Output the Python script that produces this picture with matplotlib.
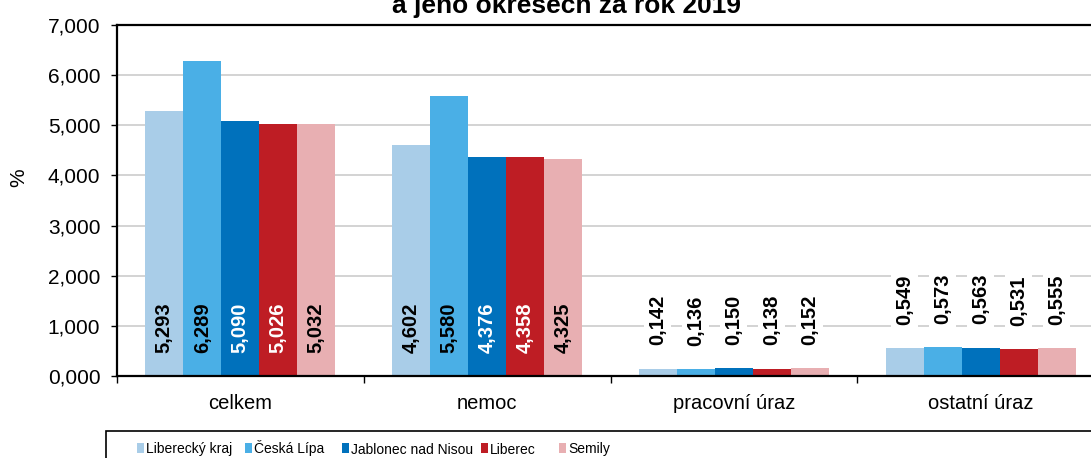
import numpy as np
import matplotlib
matplotlib.use("Agg")
import matplotlib.pyplot as plt
from matplotlib.patches import Rectangle

categories = ["celkem", "nemoc", "pracovní úraz", "ostatní úraz"]
regions = ["Liberecký kraj", "Česká Lípa", "Jablonec nad Nisou", "Liberec", "Semily"]
values = {
    "Liberecký kraj":     [5.293, 4.602, 0.142, 0.549],
    "Česká Lípa":         [6.289, 5.580, 0.136, 0.573],
    "Jablonec nad Nisou": [5.090, 4.376, 0.150, 0.563],
    "Liberec":            [5.026, 4.358, 0.138, 0.531],
    "Semily":             [5.032, 4.325, 0.152, 0.555],
}
colors = ["#A9CDE8", "#4AAFE6", "#0071BC", "#BE1D24", "#E8AFB2"]
label_colors = ["black", "black", "white", "white", "black"]
# legend entry positions (px from left) as in the original Excel legend
legend_x = [137, 245, 342, 481, 559]

def fmt(v):
    return f"{v:.3f}".replace(".", ",")

plt.rcParams["font.family"] = ["Liberation Sans", "DejaVu Sans"]

W, H = 1091, 458
fig = plt.figure(figsize=(W / 100, H / 100), dpi=100)
ax = fig.add_axes([117 / W, 1 - 376 / H, (1104 - 117) / W, (376 - 25) / H])

x = np.arange(len(categories))
bw = 0.154
for i, reg in enumerate(regions):
    xs = x + (i - 2) * bw
    ax.bar(xs, values[reg], width=bw, color=colors[i], zorder=2)
    for xi, v in zip(xs, values[reg]):
        if v >= 1:
            ax.annotate(fmt(v), (xi, 0), xytext=(0, 16.5), textcoords="offset points",
                        rotation=90, ha="center", va="bottom", fontsize=14.5,
                        fontweight="bold", color=label_colors[i], zorder=4)
        else:
            ax.annotate(fmt(v), (xi, v), xytext=(0, 17), textcoords="offset points",
                        rotation=90, ha="center", va="bottom", fontsize=14.5,
                        fontweight="bold", color="black", zorder=4,
                        bbox=dict(boxstyle="square,pad=0.2", fc="white", ec="none"))

ax.set_xlim(-0.5, 3.5)
ax.set_ylim(0, 7)
ax.set_yticks(np.arange(0, 8, 1))
ax.set_yticklabels([fmt(t) for t in np.arange(0, 8, 1)])
ax.set_xticks(x)
ax.set_xticklabels(categories)
ax.set_xticks(np.arange(-0.5, 4, 1), minor=True)
ax.tick_params(axis="x", which="major", length=0, pad=13, labelsize=14.5)
ax.tick_params(axis="x", which="minor", length=5, width=1, direction="out")
ax.tick_params(axis="y", length=4, width=1, pad=8, labelsize=15)
ax.yaxis.grid(True, color="#D0D0D0", lw=1.3, zorder=0)
ax.set_axisbelow(True)
for s in ["left", "top", "bottom"]:
    ax.spines[s].set_linewidth(1.6)
    ax.spines[s].set_color("black")
ax.spines["right"].set_visible(False)
ax.set_ylabel("%", fontsize=15, labelpad=14, y=0.564)

fig.text(566 / W, 1 - 13 / H, "a jeho okresech za rok 2019", ha="center",
         va="baseline", fontsize=19, fontweight="bold")

# legend frame (continues beyond the cropped picture)
fig.add_artist(Rectangle((106 / W, -0.1), 1.0, (458 - 431) / H + 0.1,
                         transform=fig.transFigure, fill=False, ec="black", lw=1.2))
for lx, reg, c in zip(legend_x, regions, colors):
    fig.add_artist(Rectangle((lx / W, 1 - 453 / H), 7 / W, 10 / H,
                             transform=fig.transFigure, fc=c, ec="none"))
    fig.text((lx + 9) / W, 1 - 453.5 / H, reg, ha="left", va="baseline", fontsize=10)

fig.savefig("out.png", dpi=100)
